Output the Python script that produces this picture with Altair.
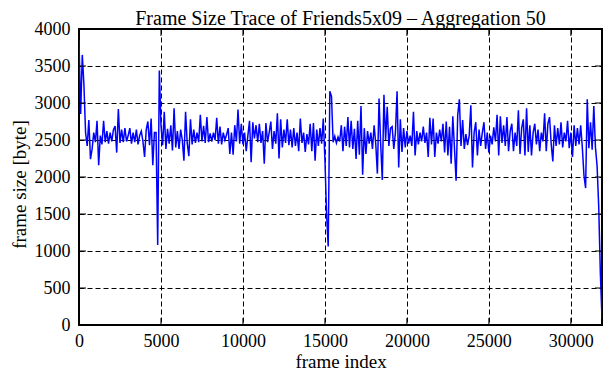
import altair as alt
import pandas as pd

# ---- data (one value per 100 frames) ----
frame_step = 100
frame_size = [
    3850, 2850, 3650, 3250, 2600, 2420, 2770, 2240, 2380, 2600,
    2470, 2760, 2160, 2560, 2440, 2760, 2470, 2620, 2450, 2600,
    2480, 2640, 2690, 2330, 2920, 2460, 2640, 2470, 2660, 2480,
    2560, 2660, 2450, 2600, 2470, 2640, 2440, 2560, 2620, 2480,
    2270, 2640, 2750, 2430, 2790, 2160, 2600, 2600, 1080, 3440,
    2700, 2430, 2880, 2380, 2650, 2450, 2700, 2360, 2930, 2400,
    2620, 2380, 2640, 2500, 2220, 2880, 2460, 2280, 2780, 2440,
    2640, 2460, 2600, 2470, 2840, 2480, 2690, 2460, 2810, 2470,
    2590, 2480, 2600, 2500, 2800, 2450, 2680, 2440, 2600, 2500,
    2570, 2660, 2310, 2600, 2300, 2700, 2480, 2910, 2450, 2720,
    2440, 2600, 2350, 2560, 2760, 2200, 2740, 2520, 2700, 2470,
    2720, 2460, 2620, 2180, 2730, 2470, 2600, 2750, 2380, 2620,
    2450, 2860, 2250, 2780, 2400, 2640, 2460, 2780, 2430, 2640,
    2400, 2660, 2420, 2600, 2350, 2790, 2460, 2600, 2340, 2580,
    2440, 2720, 2350, 2730, 2220, 2640, 2420, 2660, 2450, 2790,
    2240, 1500, 1060, 3160, 3090, 2470, 2550, 2460, 2540, 2480,
    2700, 2350, 2680, 2420, 2810, 2400, 2760, 2380, 2650, 2245,
    2760, 2300, 2960, 2030, 2660, 2310, 2620, 2450, 2600, 2380,
    2700, 2450, 2046, 3060, 2450, 1960, 3110, 2500, 2950, 2420,
    2660, 2680, 2380, 2600, 3160, 2130, 2780, 2340, 2660, 2400,
    2620, 2450, 2560, 2420, 2880, 2290, 2620, 2440, 2600, 2480,
    2680, 2460, 2600, 2270, 2800, 2440, 2790, 2270, 2600, 2450,
    2640, 2480, 2720, 2330, 2750, 2290, 2680, 2180, 2820, 2400,
    1950, 2840, 3050, 2420, 2770, 2380, 2580, 2430, 2560, 2970,
    2130, 2600, 2740, 2290, 2640, 2420, 2600, 2740, 2380, 2600,
    2330, 2560, 2440, 2670, 2480, 2840, 2290, 2820, 2460, 2700,
    2420, 2810, 2350, 2620, 2720, 2350, 2600, 2420, 2900, 2310,
    2660, 2780, 2290, 2930, 2340, 2700, 2290, 2600, 2720, 2440,
    2640, 2350, 2600, 2480, 2860, 2350, 2720, 2810, 2450, 2210,
    2700, 2420, 2660, 2440, 2740, 2400, 2600, 2480, 2760, 2390,
    2600, 2270, 2700, 2420, 2660, 2440, 2700, 2400, 2020, 1850,
    3050, 2390, 2740, 2370, 2960, 2400, 2150, 1600, 700, 80,
]
frame_index = [i * frame_step for i in range(len(frame_size))]

x_ticks = [0, 5000, 10000, 15000, 20000, 25000, 30000]
y_ticks = [0, 500, 1000, 1500, 2000, 2500, 3000, 3500, 4000]
x_domain = [0, 31900]
y_domain = [0, 4000]

title_text = "Frame Size Trace of Friends5x09 \u2013 Aggregation 50"
x_title = "frame index"
y_title = "frame size [byte]"

FONT = "Liberation Serif"
W, H = 523, 296
TICK = 7

df = pd.DataFrame({"frame": frame_index, "size": frame_size})
xt = pd.DataFrame({"frame": x_ticks})
yt = pd.DataFrame({"size": y_ticks})

xscale = alt.Scale(domain=x_domain, nice=False, zero=False)
yscale = alt.Scale(domain=y_domain, nice=False, zero=False)

x_axis = alt.Axis(
    values=x_ticks, format="d", title=x_title, labelPadding=7, labelFlush=False,
    titleY=46, titleBaseline="bottom")
y_axis = alt.Axis(
    values=y_ticks, format="d", title=y_title, labelPadding=9, labelFlush=False,
    titleX=-60, titleY=155, titleAngle=-90, titleBaseline="middle",
    titleAlign="center")

line = alt.Chart(df).mark_line(color="#0000ff", strokeWidth=1.5, clip=True).encode(
    x=alt.X("frame:Q", scale=xscale, axis=x_axis),
    y=alt.Y("size:Q", scale=yscale, axis=y_axis),
)

left_ticks = alt.Chart(yt).mark_rule(color="black", strokeWidth=1).encode(
    y=alt.Y("size:Q", scale=yscale, axis=y_axis), x=alt.value(0), x2=alt.value(TICK))
right_ticks = alt.Chart(yt).mark_rule(color="black", strokeWidth=1).encode(
    y=alt.Y("size:Q", scale=yscale, axis=y_axis), x=alt.value(W - TICK), x2=alt.value(W))
bottom_ticks = alt.Chart(xt).mark_rule(color="black", strokeWidth=1).encode(
    x=alt.X("frame:Q", scale=xscale, axis=x_axis), y=alt.value(H - TICK), y2=alt.value(H))
top_ticks = alt.Chart(xt).mark_rule(color="black", strokeWidth=1).encode(
    x=alt.X("frame:Q", scale=xscale, axis=x_axis), y=alt.value(0), y2=alt.value(TICK))

chart = alt.layer(line, left_ticks, right_ticks, bottom_ticks, top_ticks).properties(
    width=W, height=H,
    title=alt.TitleParams(text=title_text, font=FONT, fontSize=20,
                          fontWeight="normal", color="black", anchor="middle",
                          offset=-9),
    autosize=alt.AutoSizeParams(type="none"),
    padding={"left": 71, "top": 21, "right": 1, "bottom": 47},
).configure(background="white").configure_view(
    stroke="black", strokeWidth=2
).configure_axis(
    grid=True, gridColor="black", gridDash=[5, 3], gridWidth=1, gridOpacity=1,
    domain=False, ticks=False, tickSize=0,
    labelFont=FONT, labelFontSize=18, labelColor="black",
    titleFont=FONT, titleFontSize=19, titleFontWeight="normal", titleColor="black",
)

chart.save("out.html", embed_options={"renderer": "svg", "actions": False})
